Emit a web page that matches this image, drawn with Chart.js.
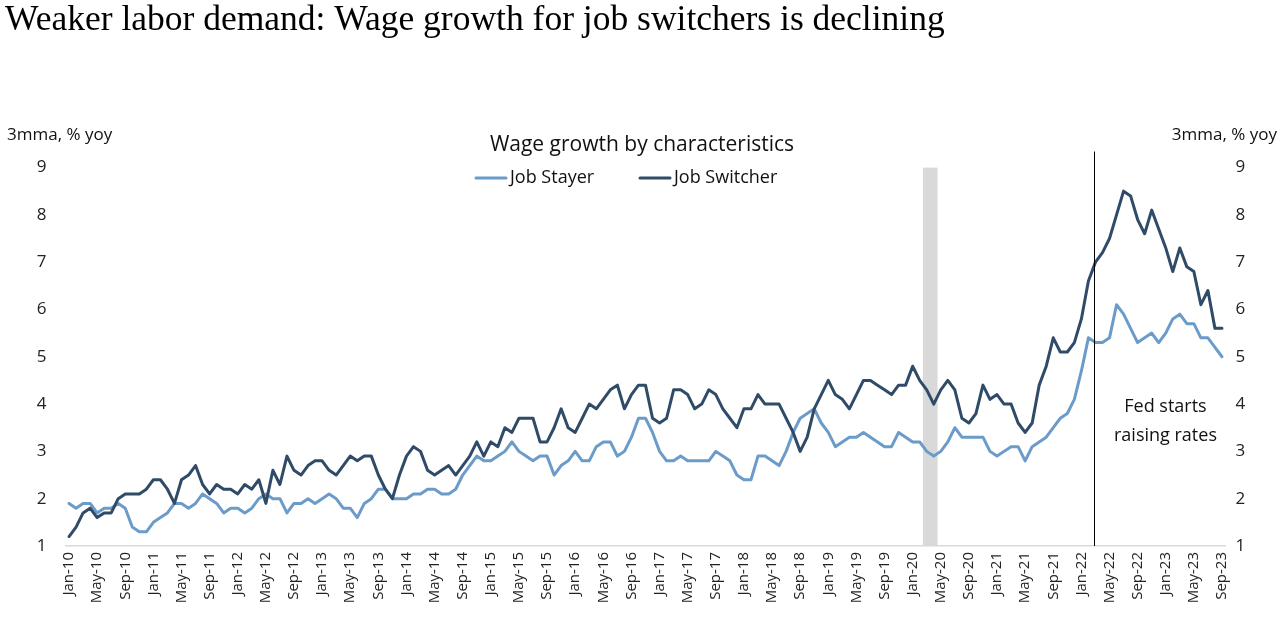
<!DOCTYPE html>
<html>
<head>
<meta charset="utf-8">
<style>
  html, body { margin: 0; padding: 0; background: #ffffff; }
  #wrap { position: relative; width: 1282px; height: 635px; }
</style>
<script src="https://cdn.jsdelivr.net/npm/chart.js@4.4.1/dist/chart.umd.min.js"></script>
</head>
<body>
<div id="wrap"><canvas id="c" width="1282" height="635"></canvas></div>
<script>
// ---------- texts ----------
const mainTitle = 'Weaker labor demand: Wage growth for job switchers is declining';
const chartTitle = 'Wage growth by characteristics';
const axisUnit = '3mma, % yoy';
const annotationLines = ['Fed starts', 'raising rates'];
const seriesNames = ['Job Stayer', 'Job Switcher'];

// ---------- categories ----------
const monthNames = ['Jan','Feb','Mar','Apr','May','Jun','Jul','Aug','Sep','Oct','Nov','Dec'];
const yearLabels = ['10','11','12','13','14','15','16','17','18','19','20','21','22','23'];
const lastMonth = 'Sep-23';
const categories = [];
outer: for (const yy of yearLabels) {
  for (const m of monthNames) {
    const lab = m + '-' + yy;
    categories.push(lab);
    if (lab === lastMonth) break outer;
  }
}
const tickMonths = ['Jan', 'May', 'Sep'];   // labelled months on the x axis
const yTickValues = [1, 2, 3, 4, 5, 6, 7, 8, 9];

// ---------- series (3mma, % yoy), Jan-10 .. Sep-23 ----------
const jobStayer = [
  1.9,1.8,1.9,1.9,1.7,1.8,1.8,1.9,1.8,1.4,1.3,1.3,
  1.5,1.6,1.7,1.9,1.9,1.8,1.9,2.1,2.0,1.9,1.7,1.8,
  1.8,1.7,1.8,2.0,2.1,2.0,2.0,1.7,1.9,1.9,2.0,1.9,
  2.0,2.1,2.0,1.8,1.8,1.6,1.9,2.0,2.2,2.2,2.0,2.0,
  2.0,2.1,2.1,2.2,2.2,2.1,2.1,2.2,2.5,2.7,2.9,2.8,
  2.8,2.9,3.0,3.2,3.0,2.9,2.8,2.9,2.9,2.5,2.7,2.8,
  3.0,2.8,2.8,3.1,3.2,3.2,2.9,3.0,3.3,3.7,3.7,3.4,
  3.0,2.8,2.8,2.9,2.8,2.8,2.8,2.8,3.0,2.9,2.8,2.5,
  2.4,2.4,2.9,2.9,2.8,2.7,3.0,3.4,3.7,3.8,3.9,3.6,
  3.4,3.1,3.2,3.3,3.3,3.4,3.3,3.2,3.1,3.1,3.4,3.3,
  3.2,3.2,3.0,2.9,3.0,3.2,3.5,3.3,3.3,3.3,3.3,3.0,
  2.9,3.0,3.1,3.1,2.8,3.1,3.2,3.3,3.5,3.7,3.8,4.1,
  4.7,5.4,5.3,5.3,5.4,6.1,5.9,5.6,5.3,5.4,5.5,5.3,
  5.5,5.8,5.9,5.7,5.7,5.4,5.4,5.2,5.0
];
const jobSwitcher = [
  1.2,1.4,1.7,1.8,1.6,1.7,1.7,2.0,2.1,2.1,2.1,2.2,
  2.4,2.4,2.2,1.9,2.4,2.5,2.7,2.3,2.1,2.3,2.2,2.2,
  2.1,2.3,2.2,2.4,1.9,2.6,2.3,2.9,2.6,2.5,2.7,2.8,
  2.8,2.6,2.5,2.7,2.9,2.8,2.9,2.9,2.5,2.2,2.0,2.5,
  2.9,3.1,3.0,2.6,2.5,2.6,2.7,2.5,2.7,2.9,3.2,2.9,
  3.2,3.1,3.5,3.4,3.7,3.7,3.7,3.2,3.2,3.5,3.9,3.5,
  3.4,3.7,4.0,3.9,4.1,4.3,4.4,3.9,4.2,4.4,4.4,3.7,
  3.6,3.7,4.3,4.3,4.2,3.9,4.0,4.3,4.2,3.9,3.7,3.5,
  3.9,3.9,4.2,4.0,4.0,4.0,3.7,3.4,3.0,3.3,3.9,4.2,
  4.5,4.2,4.1,3.9,4.2,4.5,4.5,4.4,4.3,4.2,4.4,4.4,
  4.8,4.5,4.3,4.0,4.3,4.5,4.3,3.7,3.6,3.8,4.4,4.1,
  4.2,4.0,4.0,3.6,3.4,3.6,4.4,4.8,5.4,5.1,5.1,5.3,
  5.8,6.6,7.0,7.2,7.5,8.0,8.5,8.4,7.9,7.6,8.1,7.7,
  7.3,6.8,7.3,6.9,6.8,6.1,6.4,5.6,5.6
];

// ---------- events ----------
const recessionMonths = ['Mar-20', 'Apr-20'];
const recessionTop = 9;
const fedHikeMonth = 'Mar-22';
const annotationAt = 3.95;   // y-value where the annotation text starts

// ---------- style ----------
const colStayer = '#6b9bc9';
const colSwitcher = '#2f4b68';
const colRecession = '#d9d9d9';
const uiFont = '"Open Sans", "Noto Sans", sans-serif';

const recessionData = categories.map(c => recessionMonths.includes(c) ? recessionTop : null);

const overlay = {
  id: 'overlay',
  afterDatasetsDraw(chart) {
    const { ctx, chartArea, scales: { x } } = chart;
    const vx = Math.round(x.getPixelForValue(categories.indexOf(fedHikeMonth))) - 0.5;
    ctx.save();
    ctx.strokeStyle = '#000';
    ctx.lineWidth = 1;
    ctx.beginPath();
    ctx.moveTo(vx, chartArea.top - 16);
    ctx.lineTo(vx, chartArea.bottom);
    ctx.stroke();
    ctx.restore();
  },
  afterDraw(chart) {
    const { ctx, chartArea, scales: { x, y } } = chart;
    ctx.save();
    // main title
    ctx.fillStyle = '#000';
    ctx.textAlign = 'left';
    ctx.textBaseline = 'alphabetic';
    ctx.font = '35.5px "Liberation Serif", "DejaVu Serif", serif';
    ctx.fillText(mainTitle, 5, 30);

    // chart title
    ctx.fillStyle = '#111';
    ctx.font = '21px ' + uiFont;
    ctx.textAlign = 'center';
    ctx.textBaseline = 'middle';
    ctx.fillText(chartTitle, 642, 145);

    // axis unit labels
    ctx.font = '17px ' + uiFont;
    ctx.textAlign = 'left';
    ctx.fillText(axisUnit, 7, 135);
    ctx.textAlign = 'right';
    ctx.fillText(axisUnit, chart.width - 5, 135);

    // legend
    const ds = chart.data.datasets;
    const legendItems = [ds[0], ds[1]];
    const legendStarts = [476, 640];
    const ly = 178;
    ctx.font = '18px ' + uiFont;
    ctx.textAlign = 'left';
    legendItems.forEach((d, i) => {
      const lx = legendStarts[i];
      ctx.strokeStyle = d.borderColor;
      ctx.lineWidth = 3;
      ctx.lineCap = 'round';
      ctx.beginPath();
      ctx.moveTo(lx, ly);
      ctx.lineTo(lx + 30, ly);
      ctx.stroke();
      ctx.fillStyle = '#111';
      ctx.fillText(d.label, lx + 34, ly);
    });

    // annotation
    const vx = x.getPixelForValue(categories.indexOf(fedHikeMonth));
    const cx = (vx + chartArea.right) / 2 + 5;
    const ay = y.getPixelForValue(annotationAt);
    ctx.font = '18px ' + uiFont;
    ctx.textAlign = 'center';
    ctx.fillStyle = '#111';
    ctx.fillText(annotationLines[0], cx, ay);
    ctx.fillText(annotationLines[1], cx, ay + 29);
    ctx.restore();
  }
};

new Chart(document.getElementById('c'), {
  type: 'line',
  data: {
    labels: categories,
    datasets: [
      {
        label: seriesNames[0],
        data: jobStayer,
        borderColor: colStayer,
        backgroundColor: colStayer,
        borderWidth: 3,
        pointRadius: 0,
        tension: 0,
        borderJoinStyle: 'round',
        borderCapStyle: 'round',
        yAxisID: 'y',
        order: 2
      },
      {
        label: seriesNames[1],
        data: jobSwitcher,
        borderColor: colSwitcher,
        backgroundColor: colSwitcher,
        borderWidth: 3,
        pointRadius: 0,
        tension: 0,
        borderJoinStyle: 'round',
        borderCapStyle: 'round',
        yAxisID: 'y',
        order: 1
      },
      {
        type: 'bar',
        label: 'Recession',
        data: recessionData,
        backgroundColor: colRecession,
        borderWidth: 0,
        barPercentage: 1,
        categoryPercentage: 1,
        yAxisID: 'y',
        order: 3
      }
    ]
  },
  options: {
    responsive: false,
    animation: false,
    devicePixelRatio: 1,
    layout: { padding: { top: 167.5, left: 0, right: 0, bottom: 0 } },
    plugins: {
      legend: { display: false },
      title: { display: false },
      tooltip: { enabled: false }
    },
    scales: {
      x: {
        type: 'category',
        offset: true,
        grid: { display: false, drawTicks: false },
        border: { display: true, color: '#d9d9d9', width: 1.5 },
        ticks: {
          autoSkip: false,
          minRotation: 90,
          maxRotation: 90,
          padding: 6,
          color: '#222',
          font: { family: uiFont, size: 15 },
          callback: (v, i) => tickMonths.includes(categories[i].slice(0, 3)) && (i % 4 === 0) ? categories[i] : ''
        },
        afterFit: s => { s.height = 89; }
      },
      y: {
        position: 'left',
        min: yTickValues[0],
        max: yTickValues[yTickValues.length - 1],
        grid: { display: false, drawTicks: false },
        border: { display: false },
        ticks: { stepSize: 1, padding: 19, color: '#222', font: { family: uiFont, size: 17 } },
        afterFit: s => { s.width = 65.5; }
      },
      y2: {
        position: 'right',
        min: yTickValues[0],
        max: yTickValues[yTickValues.length - 1],
        grid: { display: false, drawTicks: false },
        border: { display: false },
        ticks: { stepSize: 1, padding: 10, color: '#222', font: { family: uiFont, size: 17 } },
        afterFit: s => { s.width = 56.5; }
      }
    }
  },
  plugins: [overlay]
});
</script>
</body>
</html>
